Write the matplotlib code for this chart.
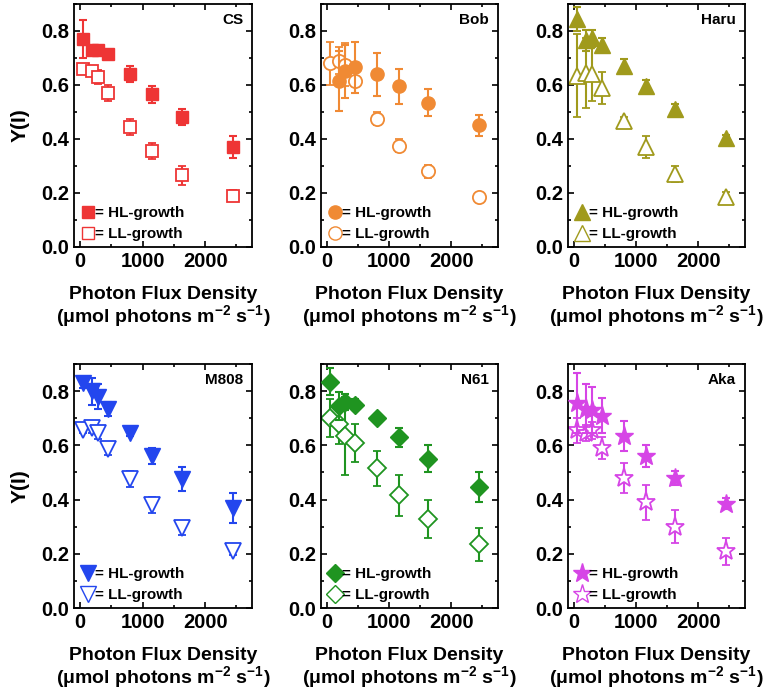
import numpy as np
import matplotlib
matplotlib.use('Agg')
import matplotlib.pyplot as plt
from matplotlib.ticker import MultipleLocator, FormatStrFormatter
from matplotlib.lines import Line2D

plt.rcParams['font.family'] = ['Liberation Sans', 'DejaVu Sans']
plt.rcParams['font.weight'] = 'bold'
plt.rcParams['mathtext.fontset'] = 'custom'
plt.rcParams['mathtext.rm'] = 'Liberation Sans:bold'
plt.rcParams['mathtext.bf'] = 'Liberation Sans:bold'

# Light intensities (umol photons m-2 s-1)
pfd = np.array([50, 190, 290, 450, 800, 1150, 1630, 2450])

strains = ['CS', 'Bob', 'Haru', 'M808', 'N61', 'Aka']
colors = ['#ee3535', '#f08a34', '#a09a1c', '#2346ee', '#1f9420', '#d645e6']
markers = ['s', 'o', '^', 'v', 'D', '*']
msizes = [8, 9.5, 11, 11, 9.5, 14]

# Y(I) means and SDs, HL-grown cells
hl_mean = {
    'CS':   [0.77, 0.73, 0.73, 0.715, 0.64, 0.565, 0.48, 0.37],
    'Bob':  [np.nan, 0.615, 0.65, 0.665, 0.64, 0.595, 0.535, 0.45],
    'Haru': [0.845, 0.765, 0.775, 0.75, 0.67, 0.595, 0.51, 0.405],
    'M808': [0.83, 0.80, 0.78, 0.735, 0.645, 0.56, 0.475, 0.37],
    'N61':  [0.835, 0.745, 0.76, 0.75, 0.70, 0.63, 0.55, 0.445],
    'Aka':  [0.755, 0.735, 0.73, 0.71, 0.635, 0.56, 0.48, 0.385],
}
hl_err = {
    'CS':   [0.07, 0.01, 0.01, 0.015, 0.03, 0.03, 0.03, 0.04],
    'Bob':  [np.nan, 0.11, 0.10, 0.095, 0.08, 0.065, 0.05, 0.04],
    'Haru': [0.045, 0.04, 0.03, 0.025, 0.025, 0.025, 0.02, 0.01],
    'M808': [0.02, 0.05, 0.045, 0.025, 0.01, 0.03, 0.045, 0.055],
    'N61':  [0.05, 0.05, 0.03, 0.02, 0.015, 0.035, 0.05, 0.055],
    'Aka':  [0.11, 0.09, 0.085, 0.065, 0.055, 0.04, 0.025, 0.02],
}
# Y(I) means and SDs, LL-grown cells
ll_mean = {
    'CS':   [0.66, 0.65, 0.63, 0.57, 0.445, 0.355, 0.265, 0.19],
    'Bob':  [0.68, 0.69, 0.675, 0.615, 0.475, 0.375, 0.28, 0.185],
    'Haru': [0.635, 0.645, 0.64, 0.59, 0.465, 0.37, 0.27, 0.185],
    'M808': [0.655, 0.665, 0.645, 0.585, 0.475, 0.38, 0.295, 0.21],
    'N61':  [0.70, 0.68, 0.635, 0.61, 0.515, 0.415, 0.33, 0.235],
    'Aka':  [0.655, 0.645, 0.655, 0.59, 0.48, 0.39, 0.30, 0.21],
}
ll_err = {
    'CS':   [0.01, 0.01, 0.025, 0.03, 0.03, 0.03, 0.035, 0.02],
    'Bob':  [0.08, 0.05, 0.08, 0.045, 0.025, 0.025, 0.025, 0.01],
    'Haru': [0.155, 0.13, 0.10, 0.06, 0.015, 0.04, 0.03, 0.02],
    'M808': [0.01, 0.02, 0.02, 0.02, 0.03, 0.03, 0.025, 0.015],
    'N61':  [0.07, 0.075, 0.145, 0.07, 0.065, 0.075, 0.07, 0.06],
    'Aka':  [0.045, 0.03, 0.03, 0.04, 0.055, 0.065, 0.06, 0.05],
}

W, H = 767, 696
fig = plt.figure(figsize=(W / 100, H / 100), dpi=100)

# axes boxes in pixels: (left, right) and (top, bottom)
col_x = [(74, 252), (321, 498), (568, 745)]
row_y = [(4, 247), (364, 608)]

for i, name in enumerate(strains):
    r, c = divmod(i, 3)
    x0, x1 = col_x[c]
    y0, y1 = row_y[r]
    ax = fig.add_axes([x0 / W, 1 - y1 / H, (x1 - x0) / W, (y1 - y0) / H])
    col = colors[i]
    m = markers[i]
    ms = msizes[i]

    ax.errorbar(pfd, ll_mean[name], yerr=ll_err[name], fmt=m, color=col,
                mfc='white', mec=col, mew=1.3, ms=ms, ecolor=col,
                elinewidth=1.5, capsize=3, capthick=1.5, zorder=2)
    ax.errorbar(pfd, hl_mean[name], yerr=hl_err[name], fmt=m, color=col,
                mfc=col, mec=col, ms=ms, ecolor=col,
                elinewidth=1.5, capsize=3, capthick=1.5, zorder=3)

    ax.set_xlim(-100, 2750)
    ax.set_ylim(0, 0.9)
    ax.xaxis.set_major_locator(MultipleLocator(1000))
    ax.xaxis.set_minor_locator(MultipleLocator(500))
    ax.yaxis.set_major_locator(MultipleLocator(0.2))
    ax.yaxis.set_minor_locator(MultipleLocator(0.1))
    ax.yaxis.set_major_formatter(FormatStrFormatter('%.1f'))
    ax.tick_params(which='both', direction='in', top=True, right=True,
                   width=1.2, labelsize=14.5)
    ax.tick_params(which='major', length=4)
    ax.tick_params(which='minor', length=2.5)
    for sp in ax.spines.values():
        sp.set_linewidth(1.3)

    ax.text(0.95, 0.965, name, transform=ax.transAxes, ha='right', va='top',
            fontsize=11, fontweight='bold')

    # legend shows only the marker, no error bar
    h_hl = Line2D([], [], ls='none', marker=m, ms=ms, mfc=col, mec=col)
    h_ll = Line2D([], [], ls='none', marker=m, ms=ms, mfc='white', mec=col, mew=1.0)
    ax.legend([h_hl, h_ll], ['= HL-growth', '= LL-growth'], loc='lower left',
              bbox_to_anchor=(0.0, 0.0), frameon=False, fontsize=11,
              handletextpad=0.0, handlelength=1.0, borderaxespad=0.15,
              labelspacing=0.45, borderpad=0.25)

    ax.set_xlabel('Photon Flux Density\n'
                  r'(μmol photons m$^{\mathbf{-2}}$ s$^{\mathbf{-1}}$)',
                  fontsize=14, fontweight='bold', labelpad=11, linespacing=1.0)
    if c == 0:
        ax.set_ylabel('Y(I)', fontsize=15, fontweight='bold', labelpad=8)

fig.savefig('out.png', dpi=100)
